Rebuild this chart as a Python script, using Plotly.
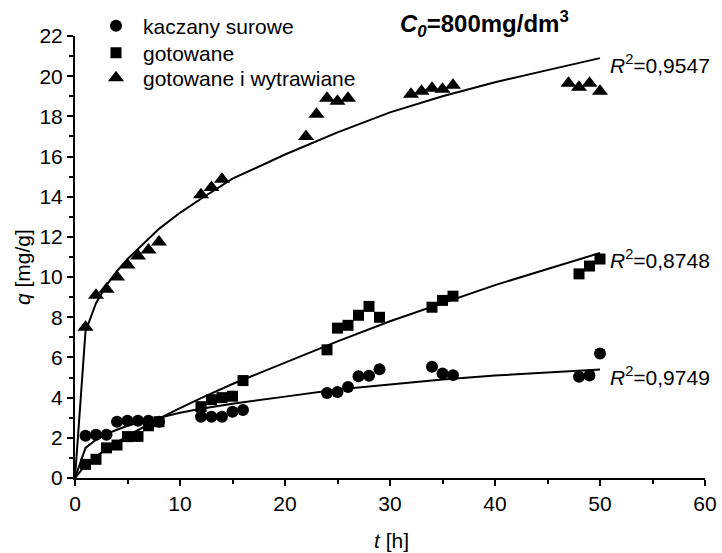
import plotly.graph_objects as go

# measured data
t_raw = [1, 2, 3, 4, 5, 6, 7, 8, 12, 13, 14, 15, 16, 24, 25, 26, 27, 28, 29, 34, 35, 36, 48, 49, 50]
q_raw = [2.1, 2.15, 2.15, 2.8, 2.85, 2.85, 2.85, 2.8, 3.05, 3.05, 3.05, 3.3, 3.38,
         4.23, 4.28, 4.53, 5.06, 5.09, 5.41, 5.54, 5.2, 5.12, 5.04, 5.1, 6.2]

t_boil = [1, 2, 3, 4, 5, 6, 7, 8, 12, 13, 14, 15, 16, 24, 25, 26, 27, 28, 29, 34, 35, 36, 48, 49, 50]
q_boil = [0.68, 0.93, 1.5, 1.64, 2.06, 2.07, 2.6, 2.8, 3.55, 3.9, 4.0, 4.07, 4.85,
          6.38, 7.46, 7.6, 8.1, 8.54, 8.0, 8.5, 8.84, 9.05, 10.16, 10.55, 10.9]

t_etch = [1, 2, 3, 4, 5, 6, 7, 8, 12, 13, 14, 22, 23, 24, 25, 26, 32, 33, 34, 35, 36, 47, 48, 49, 50]
q_etch = [7.5, 9.1, 9.4, 10.0, 10.6, 11.05, 11.35, 11.75, 14.1, 14.46, 14.87,
          17.0, 18.1, 18.9, 18.75, 18.9, 19.1, 19.25, 19.4, 19.35, 19.55, 19.65, 19.45, 19.65, 19.25]

# fitted curves
t_fit = [0, 1, 2, 3, 4, 5, 6, 8, 10, 12, 15, 20, 25, 30, 35, 40, 45, 50]
fit_raw = [0, 1.5, 1.9, 2.2, 2.4, 2.6, 2.75, 3.0, 3.25, 3.45, 3.7, 4.05, 4.4, 4.65, 4.9, 5.1, 5.25, 5.4]
fit_boil = [0, 0.65, 1.08, 1.45, 1.78, 2.1, 2.4, 2.96, 3.48, 3.98, 4.68, 5.76, 6.8, 7.8, 8.7, 9.6, 10.4, 11.2]
fit_etch = [0, 7.3, 8.7, 9.6, 10.3, 10.9, 11.4, 12.4, 13.2, 13.9, 14.9, 16.1, 17.2, 18.2, 19.0, 19.7, 20.3, 20.9]

r2_labels = ["0,9749", "0,8748", "0,9547"]
names = ["kaczany surowe", "gotowane", "gotowane i wytrawiane"]

FONT = "Arial, Liberation Sans, sans-serif"
FS = 21
W, HT = 722.0, 553.0
L, R, T, B = 75, 17, 36, 75
PW, PH = W - L - R, HT - T - B


def px(x):
    return (x - L) / PW


def py(y):
    return (HT - B - y) / PH


fig = go.Figure()

for tt, qq in [(t_fit, fit_raw), (t_fit, fit_boil), (t_fit, fit_etch)]:
    fig.add_trace(go.Scatter(x=tt, y=qq, mode="lines", line=dict(color="black", width=2),
                             showlegend=False, hoverinfo="skip"))

fig.add_trace(go.Scatter(x=t_raw, y=q_raw, mode="markers", name=names[0], legend="legend",
                         marker=dict(symbol="circle", size=12, color="black")))
fig.add_trace(go.Scatter(x=t_boil, y=q_boil, mode="markers", name=names[1], legend="legend2",
                         marker=dict(symbol="square", size=11, color="black")))
fig.add_trace(go.Scatter(x=t_etch, y=q_etch, mode="markers", name=names[2], legend="legend3",
                         marker=dict(symbol="triangle-up", size=14, color="black")))

# R^2 labels at curve ends
for lab, yv in zip(r2_labels, [fit_raw[-1], fit_boil[-1], fit_etch[-1]]):
    fig.add_annotation(x=t_fit[-1], y=yv, xref="x", yref="y", xanchor="left", yanchor="middle",
                       xshift=8, yshift=-6,
                       text="<i>R</i><sup>2</sup>=" + lab, showarrow=False,
                       font=dict(family=FONT, size=FS, color="black"))

# title
fig.add_annotation(x=px(484), y=py(24), xref="paper", yref="paper", xanchor="center", yanchor="middle",
                   text="<b><i>C</i><sub><i>0</i></sub>=800mg/dm<sup>3</sup></b>", showarrow=False,
                   font=dict(family=FONT, size=24, color="black"))

# axis titles
fig.add_annotation(x=px(391), y=py(540), xref="paper", yref="paper", xanchor="center", yanchor="middle",
                   text="<i>t</i> [h]", showarrow=False, font=dict(family=FONT, size=FS, color="black"))
fig.add_annotation(x=px(22), y=py(267), xref="paper", yref="paper", xanchor="center", yanchor="middle",
                   text="<i>q</i> [mg/g]", textangle=-90, showarrow=False,
                   font=dict(family=FONT, size=FS, color="black"))

axis_common = dict(showline=True, linecolor="black", linewidth=2, ticks="outside",
                   ticklen=6, tickwidth=2, tickcolor="black", showgrid=False, zeroline=False,
                   tickfont=dict(family=FONT, size=FS, color="black"), mirror=False,
                   automargin=False)

fig.update_xaxes(range=[0, 60], dtick=10,
                 minor=dict(dtick=5, ticks="outside", ticklen=4, tickwidth=2, tickcolor="black"),
                 **axis_common)
fig.update_yaxes(range=[0, 22], dtick=2,
                 minor=dict(dtick=1, ticks="outside", ticklen=4, tickwidth=2, tickcolor="black"),
                 **axis_common)

leg_common = dict(x=89 / W, xref="container", yref="container", xanchor="left", yanchor="middle",
                  bgcolor="rgba(0,0,0,0)",
                  font=dict(family=FONT, size=FS, color="black"), itemwidth=44)
fig.update_layout(
    width=722, height=553,
    margin=dict(l=L, r=R, t=T, b=B, autoexpand=False),
    plot_bgcolor="white", paper_bgcolor="white",
    font=dict(family=FONT, size=FS, color="black"),
    legend=dict(y=1 - 26 / HT, **leg_common),
    legend2=dict(y=1 - 53 / HT, **leg_common),
    legend3=dict(y=1 - 78 / HT, **leg_common),
)

fig.write_html("out.html")
